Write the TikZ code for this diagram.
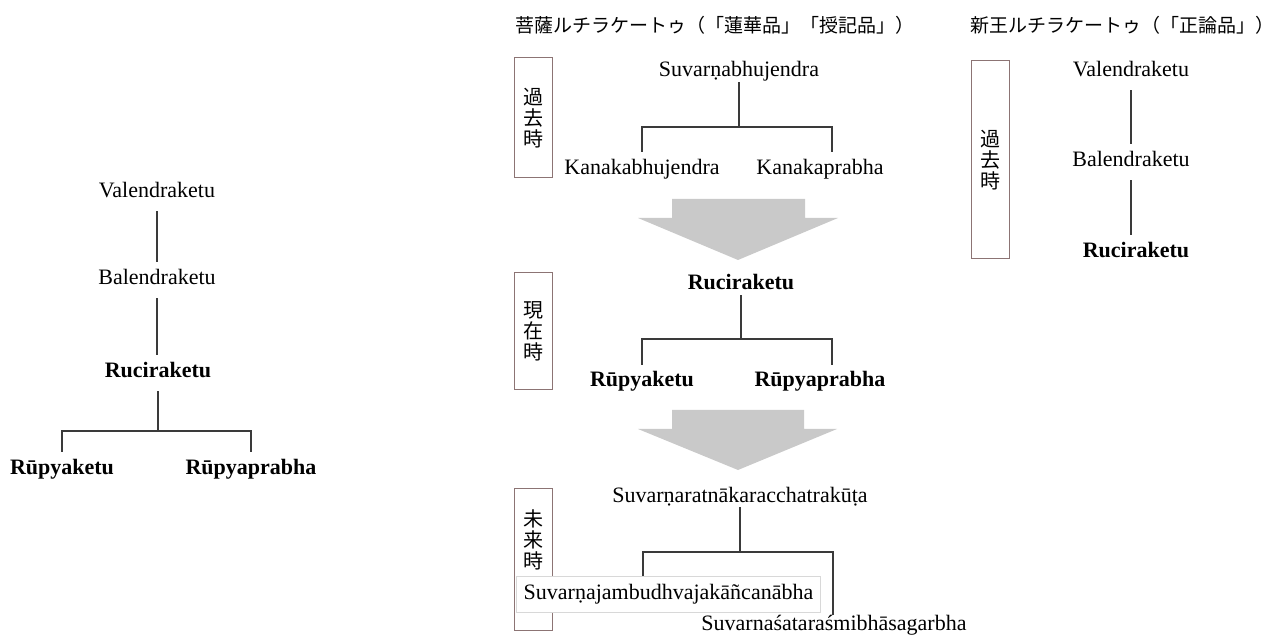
\documentclass[tikz,border=0pt]{standalone}
\usepackage{fontspec}
\setmainfont{Liberation Serif}
\newfontfamily\jpfont{Noto Sans CJK JP}
\definecolor{linecol}{HTML}{3A3A3A}
\definecolor{boxcol}{HTML}{8C7474}
\definecolor{arrcol}{HTML}{C9C9C9}
\definecolor{wboxcol}{HTML}{D8D8D8}
\tikzset{
  nm/.style={font=\fontsize{22}{26}\selectfont, anchor=base, inner xsep=0pt, inner ysep=8pt, text height=15pt, text depth=5pt},
  bd/.style={nm, font=\fontsize{22}{26}\selectfont\bfseries},
  conn/.style={draw=linecol, line width=1.3pt},
  lbox/.style={draw=boxcol, line width=1pt, minimum width=38pt, inner sep=0pt},
  lbtext/.style={font=\jpfont\fontsize{20}{21}\selectfont, align=center, inner sep=0pt},
  jtitle/.style={font=\jpfont\fontsize{19}{22}\selectfont, anchor=west, inner sep=0pt},
  bigarrow/.style={fill=arrcol},
}
\begin{document}
\begin{tikzpicture}[x=1pt,y=-1pt]
\useasboundingbox (0,0) rectangle (1278,636);
% ---------- left tree ----------
\node[nm] (lv) at (157,198) {Valendraketu};
\node[nm] (lb) at (157,285) {Balendraketu};
\node[bd] (lr) at (158,378) {Ruciraketu};
\node[bd] (lk) at (62,475) {Rūpyaketu};
\node[bd] (lp) at (251,475) {Rūpyaprabha};
\coordinate (j0) at (158,431);
\draw[conn] (lv.south) -- (lb.north);
\draw[conn] (lb.south) -- (lb.south |- lr.north);
\draw[conn] (lr.south) -- (j0);
\draw[conn] (lk.north) |- (j0) -| (lp.north);
% ---------- middle titles ----------
\node[jtitle] (t1) at (515,25) {菩薩ルチラケートゥ（「蓮華品」「授記品」）};
\node[jtitle] (t2) at (970,25) {新王ルチラケートゥ（「正論品」）};
% ---------- middle: past ----------
\node[lbox, lbtext, minimum height=120pt] (b1) at (533,118) {過\\去\\時};
\node[nm, inner ysep=0pt] (sb) at (739,77) {Suvarṇabhujendra};
\node[nm] (kb) at (642,175) {Kanakabhujendra};
\node[nm] (kp) at (820,175) {Kanakaprabha};
\coordinate (j1) at (739,127);
\draw[conn] (sb.south) -- (j1);
\draw[conn] (kb.north) |- (j1) -| ([xshift=12pt]kp.north);
\fill[bigarrow] (672,199) -- (805,199) -- (805,218) -- (838,218) -- (738,260) -- (638,218) -- (672,218) -- cycle;
% ---------- middle: present ----------
\node[lbox, lbtext, minimum height=117pt] (b2) at (533,331.5) {現\\在\\時};
\node[bd, inner ysep=0pt] (rc) at (741,290) {Ruciraketu};
\node[bd, inner ysep=7pt] (rk) at (642,387) {Rūpyaketu};
\node[bd, inner ysep=7pt] (rp) at (820,387) {Rūpyaprabha};
\coordinate (j2) at (741,339);
\draw[conn] (rc.south) -- (j2);
\draw[conn] (rk.north) |- (j2) -| ([xshift=12pt]rp.north);
\fill[bigarrow] (672,410) -- (804,410) -- (804,429) -- (837,429) -- (738,470) -- (638,429) -- (672,429) -- cycle;
% ---------- middle: future ----------
\node[lbox, minimum height=142pt] (b3) at (533,559) {};
\node[lbtext] (b3t) at (533,540) {未\\来\\時};
\node[nm, inner ysep=0pt] (sr) at (740,502) {Suvarṇaratnākaracchatrakūṭa};
\coordinate (j3) at (740,552);
\node[nm, anchor=center, draw=wboxcol, fill=white, line width=0.8pt, inner xsep=7pt] (sj) at (668.5,594) {Suvarṇajambudhvajakāñcanābha};
\node[nm, inner ysep=0pt] (ss) at (834,630) {Suvarnaśataraśmibhāsagarbha};
\draw[conn] (sr.south) -- (j3);
\draw[conn] ([xshift=-25.5pt]sj.north) |- (j3) -| ([xshift=-1pt]ss.north);
% ---------- right tree ----------
\node[lbox, lbtext, minimum height=198pt] (b4) at (990,160) {過\\去\\時};
\node[nm] (rv) at (1131,77) {Valendraketu};
\node[nm] (rb) at (1131,167) {Balendraketu};
\node[bd] (rr) at (1136,258) {Ruciraketu};
\draw[conn] (rv.south) -- (rb.north);
\draw[conn] (rb.south) -- (rb.south |- rr.north);
\end{tikzpicture}
\end{document}
